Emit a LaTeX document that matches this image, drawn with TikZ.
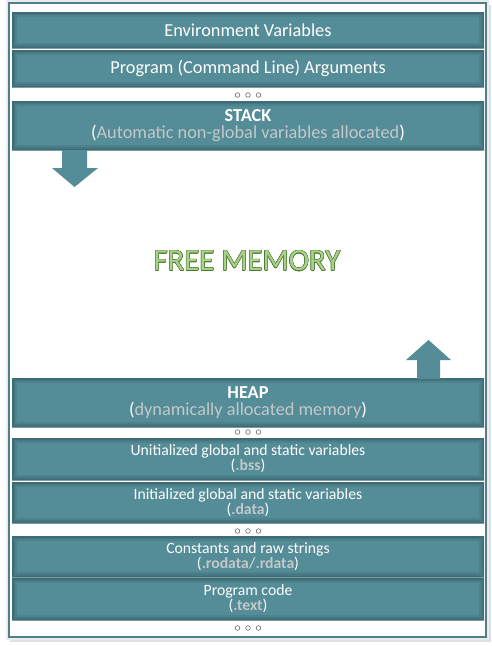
\documentclass[tikz,border=0pt]{standalone}
\usepackage{fontspec}
\setmainfont{Carlito}
\usepackage[copies]{contour}
\definecolor{teal1}{HTML}{548C97}
\definecolor{tealdark}{HTML}{2F5962}
\definecolor{framecol}{HTML}{4F7F8A}
\definecolor{subgray}{HTML}{C3C8CA}
\definecolor{fmfill}{HTML}{A9D18E}
\definecolor{fmline}{HTML}{4E7A2E}
\definecolor{dotgray}{HTML}{6A6A6A}
\begin{document}
\begin{tikzpicture}[x=1pt,y=-1pt,
  memb/.style={rectangle, fill=teal1, minimum width=472pt, inner sep=0pt,
    text=white, align=center,
    path picture={
      \draw[tealdark, opacity=0.18, line width=10pt] (path picture bounding box.south west) rectangle (path picture bounding box.north east);
      \draw[tealdark, opacity=0.25, line width=6pt] (path picture bounding box.south west) rectangle (path picture bounding box.north east);
      \draw[tealdark, opacity=0.35, line width=3pt] (path picture bounding box.south west) rectangle (path picture bounding box.north east);
    }},
  bigtxt/.style={font=\fontsize{18.3}{17}\selectfont},
  smalltxt/.style={font=\fontsize{15.7}{15}\selectfont},
  growarrow/.style={fill=teal1},
  dotc/.style={draw=dotgray, line width=0.6pt}
]
\useasboundingbox (0,0) rectangle (492,646);
\fill[white] (0,0) rectangle (492,646);
% frame shadow
\draw[black!12, line width=3pt] (11,6) rectangle (489,640);
\draw[black!8, line width=2pt] (7,1) rectangle (488,639);
\fill[white] (9,3) rectangle (486,637);
\draw[framecol, line width=1.2pt] (9,3) rectangle (486,637);

\newcommand\membox[5]{%
  \node[memb, #5, minimum height={#3-#2}] (#1) at (248,{(#2+#3)/2}) {#4};}
\newcommand\sub[1]{\textcolor{subgray}{#1}}
\newcommand\dotrow[2]{%
  \node[inner sep=0pt, minimum width=30pt, minimum height=6pt] (#1) at (248,#2) {};
  \draw[dotc] ([xshift=-10.5pt]#1.center) circle (2.3pt);
  \draw[dotc] (#1.center) circle (2.3pt);
  \draw[dotc] ([xshift=10.5pt]#1.center) circle (2.3pt);}

\membox{env}{12}{48}{Environment Variables}{bigtxt}
\membox{args}{50}{87}{Program (Command Line) Arguments}{bigtxt}
\dotrow{dots1}{95}
\membox{stack}{101}{150}{\textbf{STACK}\\(\sub{Automatic non-global variables allocated})}{bigtxt}

% down arrow
\coordinate (da) at (74.5,150);
\fill[growarrow] ([xshift=-12.5pt]da) -- ++(0,18) -- ++(-10,0) -- (74.5,187) -- (98,168) -- ++(-11,0) -- (87,150) -- cycle;

\node[inner sep=0pt, font=\fontsize{30.7}{30}\selectfont] (free) at (247,261)
  {\contourlength{0.45pt}\contour{fmline}{\textcolor{fmfill}{FREE MEMORY}}};

\membox{heap}{378}{427}{\textbf{HEAP}\\(\sub{dynamically allocated memory})}{bigtxt}
% up arrow
\coordinate (ua) at (428.5,378);
\fill[growarrow] ([xshift=-11.5pt]ua) -- (417,360) -- (406,360) -- (428.5,340) -- (451,360) -- (440,360) -- (440,379) -- (417,379) -- cycle;

\dotrow{dots2}{432}
\membox{bss}{438}{480}{Unitialized global and static variables\\(\sub{\textbf{.bss}})}{smalltxt}
\membox{data}{482}{523}{Initialized global and static variables\\(\sub{\textbf{.data}})}{smalltxt}
\dotrow{dots3}{531}
\membox{rodata}{536}{577}{Constants and raw strings\\(\sub{\textbf{.rodata/.rdata}})}{smalltxt}
\membox{text}{578}{620}{Program code\\(\sub{\textbf{.text}})}{smalltxt}
\dotrow{dots4}{628}
\end{tikzpicture}
\end{document}
